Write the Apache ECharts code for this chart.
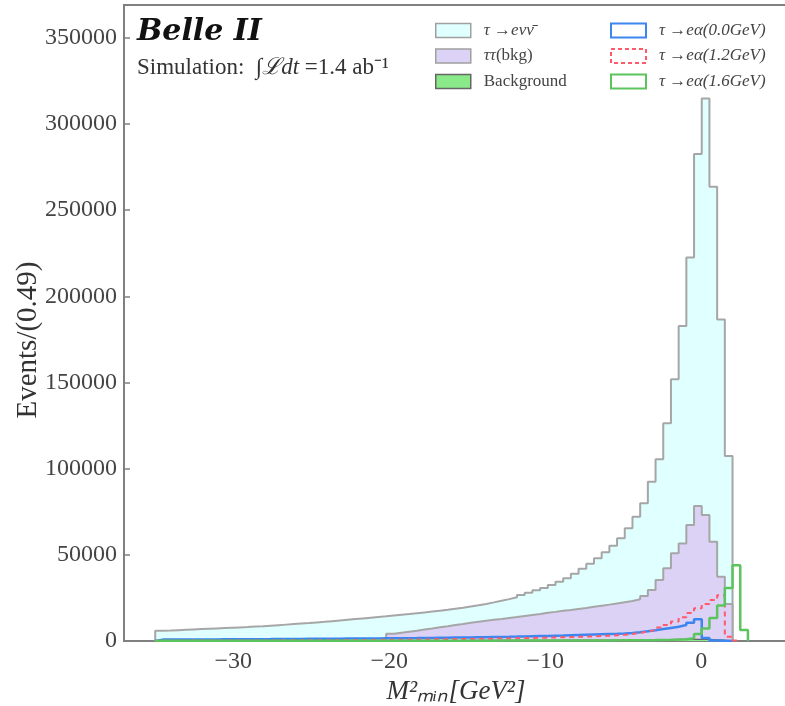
<!DOCTYPE html>
<html>
<head>
<meta charset="utf-8">
<script src="https://cdn.jsdelivr.net/npm/echarts@6/dist/echarts.min.js"></script>
<style>
html,body{margin:0;padding:0;background:#fff;}
#chart{width:785px;height:706px;}
</style>
</head>
<body>
<div id="chart"></div>
<script>
// ---- Histogram binning ----
const binStart = -35;
const binWidth = 0.4934;

// ---- Series counts per bin (null = no entry) ----
const tauENuNu = [
  6000, 6100, 6300, 6500, 6700, 6900, 7100, 7300, 7500, 7700,
  7900, 8100, 8400, 8600, 8900, 9200, 9500, 9800, 10100, 10400,
  10800, 11100, 11500, 11900, 12300, 12700, 13100, 13500, 13900, 14300,
  14800, 15200, 15600, 16100, 16600, 17100, 17600, 18100, 18700, 19300,
  20000, 20700, 21500, 22400, 23400, 24300, 25400, 26700, 28000, 29500,
  30800, 32500, 34400, 36400, 39000, 41900, 44800, 48000, 51500, 55200,
  59600, 65400, 72100, 79900, 92400, 105400, 126300, 151800, 182700, 222500,
  282500, 314800, 263500, 186600, 107300, null, null
];
const tautauBkg = [
  null, null, null, null, null, null, null, null, null, null,
  null, null, null, null, null, null, null, null, null, null,
  null, null, null, null, null, null, null, null, null, null,
  4200, 4800, 5400, 6000, 6700, 7300, 8000, 8600, 9300, 9900,
  10600, 11200, 11800, 12300, 12800, 13400, 13900, 14500, 15100, 15700,
  16400, 16900, 17500, 18000, 18600, 19200, 19900, 20500, 21100, 21800,
  22500, 23200, 24200, 26100, 29600, 35400, 42200, 50900, 56500, 67300,
  78300, 73100, 57600, 37300, 21500, null, null
];
const background = [
  150, 150, 150, 150, 150, 160, 160, 160, 160, 170,
  170, 170, 180, 180, 180, 190, 190, 190, 200, 200,
  200, 210, 210, 220, 220, 230, 230, 240, 240, 250,
  250, 260, 260, 270, 270, 280, 280, 290, 300, 300,
  310, 320, 330, 340, 350, 360, 370, 380, 390, 400,
  410, 420, 430, 450, 470, 490, 510, 530, 550, 580,
  610, 640, 680, 720, 760, 800, 850, 900, 950, 1000,
  1000, 900, 700, 500, 300, null, null
];
const sigA00 = [
  800, 820, 840, 860, 880, 900, 920, 940, 960, 980,
  1000, 1020, 1050, 1080, 1100, 1130, 1160, 1190, 1220, 1250,
  1280, 1310, 1340, 1370, 1400, 1430, 1460, 1490, 1520, 1550,
  1580, 1620, 1660, 1700, 1750, 1800, 1850, 1900, 1960, 2020,
  2080, 2150, 2220, 2300, 2380, 2460, 2550, 2650, 2750, 2850,
  2950, 3050, 3150, 3300, 3450, 3600, 3750, 3900, 4050, 4200,
  4400, 4700, 5100, 5600, 6200, 6900, 7600, 8300, 9300, 10600,
  12600, 1800, 300, 100, 50, null, null
];
const sigA12 = [
  200, 200, 210, 220, 230, 240, 250, 260, 270, 280,
  290, 300, 310, 320, 340, 360, 380, 400, 420, 440,
  460, 480, 500, 520, 550, 580, 610, 640, 670, 700,
  740, 780, 820, 860, 900, 950, 1000, 1050, 1100, 1150,
  1200, 1260, 1320, 1380, 1450, 1520, 1600, 1680, 1760, 1850,
  1950, 2050, 2150, 2250, 2400, 2550, 2700, 2900, 3100, 3350,
  3600, 4100, 4700, 5500, 6400, 7800, 9300, 11300, 13800, 16300,
  19000, 21500, 23800, 26500, 2500, 300, null
];
const sigA16 = [
  100, 100, 100, 100, 100, 100, 100, 100, 100, 100,
  100, 100, 100, 100, 100, 100, 100, 100, 100, 100,
  110, 110, 110, 120, 120, 120, 130, 130, 130, 140,
  140, 150, 150, 160, 160, 170, 170, 180, 180, 190,
  190, 200, 200, 210, 220, 230, 240, 250, 260, 270,
  280, 290, 300, 310, 320, 330, 340, 350, 360, 380,
  400, 420, 450, 480, 520, 600, 700, 850, 1050, 1600,
  4000, 7300, 13300, 20600, 30800, 43900, 6400
];

// ---- Axis ticks ----
const xTicks = [-30, -20, -10, 0];
const yTicks = [0, 50000, 100000, 150000, 200000, 250000, 300000, 350000];

// ---- Labels ----
const seriesNames = ['τ →eνν̄', 'ττ(bkg)', 'Background', 'τ →eα(0.0GeV)', 'τ →eα(1.2GeV)', 'τ →eα(1.6GeV)'];
const yAxisTitle = 'Events/(0.49)';
const xAxisTitle = 'M²ₘᵢₙ[GeV²]';

function edge(k) { return binStart + k * binWidth; }
function stepPoints(counts) {
  let first = -1, last = -1;
  counts.forEach((v, i) => { if (v != null) { if (first < 0) first = i; last = i; } });
  const pts = [[edge(first), 0]];
  for (let k = first; k <= last; k++) pts.push([edge(k), counts[k]]);
  pts.push([edge(last + 1), counts[last]]);
  pts.push([edge(last + 1), 0]);
  return pts;
}

const serif = 'Liberation Serif';
const chart = echarts.init(document.getElementById('chart'), null, {renderer: 'canvas'});

function histSeries(name, counts, z, line, fill) {
  const s = {
    name: name, type: 'line', step: 'end', data: stepPoints(counts),
    showSymbol: false, symbol: 'none', silent: true, z: z, animation: false,
    lineStyle: line, itemStyle: {color: line.color}
  };
  if (fill) s.areaStyle = {color: fill, opacity: 1};
  return s;
}

const mathRich = {
  i: {fontFamily: serif, fontStyle: 'italic', fontSize: 17, lineHeight: 14, color: '#444'},
  r: {fontFamily: serif, fontSize: 17, lineHeight: 14, color: '#444'}
};
function legendFmt(name) {
  if (name === 'ττ(bkg)') return '{i|ττ}{r|(bkg)}';
  if (name === 'Background') return '{r|Background}';
  return '{i|' + name + '}';
}

const option = {
  backgroundColor: '#fff',
  animation: false,
  grid: {left: 124, right: -3, top: 5, bottom: 65, outerBoundsMode: 'none', containLabel: false,
    show: true, borderColor: '#808080', borderWidth: 2, backgroundColor: 'transparent'},
  xAxis: {
    type: 'value', min: -37, max: 5.56,
    name: xAxisTitle, nameLocation: 'middle', nameGap: 31,
    nameTextStyle: {fontFamily: serif, fontStyle: 'italic', fontSize: 27, color: '#333'},
    axisLine: {show: true, onZero: false, lineStyle: {color: '#808080', width: 2}},
    axisTick: {show: true, inside: true, length: 6, customValues: xTicks, lineStyle: {color: '#808080', width: 1.5}},
    axisLabel: {show: true, customValues: xTicks, margin: 9, fontFamily: serif, fontSize: 24, color: '#444',
      formatter: v => (v < 0 ? '−' + Math.abs(v) : String(v))},
    splitLine: {show: false}
  },
  yAxis: {
    type: 'value', min: 0, max: 369000,
    axisLine: {show: true, onZero: false, lineStyle: {color: '#808080', width: 2}},
    axisTick: {show: true, inside: true, length: 6, customValues: yTicks, lineStyle: {color: '#808080', width: 1.5}},
    axisLabel: {show: true, customValues: yTicks, margin: 7, fontFamily: serif, fontSize: 24, color: '#444',
      formatter: v => String(v)},
    splitLine: {show: false}
  },
  graphic: [
    {type: 'text', x: 28, y: 340, rotation: Math.PI / 2, silent: true,
      style: {text: yAxisTitle, fontFamily: serif, fontSize: 29, fill: '#333', align: 'center', verticalAlign: 'middle'}}
  ],
  title: [
    {text: 'Belle II', left: 137, top: 17, padding: 0,
      textStyle: {fontFamily: 'DejaVu Serif', fontWeight: 'bold', fontStyle: 'italic', fontSize: 30, color: '#111'}},
    {text: '{r|Simulation:  }{i|∫ℒdt}{r| =1.4 ab⁻¹}', left: 137, top: 56, padding: 0,
      textStyle: {fontWeight: 'normal', rich: {
        r: {fontFamily: serif, fontWeight: 'normal', fontSize: 23, color: '#333'},
        i: {fontFamily: serif, fontWeight: 'normal', fontStyle: 'italic', fontSize: 23, color: '#333'}
      }}}
  ],
  legend: [
    {
      orient: 'vertical', left: 430, top: 17, icon: 'rect', itemWidth: 35, itemHeight: 14, itemGap: 8.5,
      selectedMode: false, formatter: legendFmt,
      textStyle: {rich: mathRich, padding: [0, 0, 0, 8]},
      data: [
        {name: seriesNames[0], itemStyle: {color: '#e0ffff', borderColor: '#a0a0a0', borderWidth: 1.5}},
        {name: seriesNames[1], itemStyle: {color: '#dcd2f6', borderColor: '#a0a0a0', borderWidth: 1.5}},
        {name: seriesNames[2], itemStyle: {color: '#8aea8a', borderColor: '#666', borderWidth: 1.5}}
      ]
    },
    {
      orient: 'vertical', left: 605, top: 17, icon: 'rect', itemWidth: 35, itemHeight: 14, itemGap: 8.5,
      selectedMode: false, formatter: legendFmt,
      textStyle: {rich: mathRich, padding: [0, 0, 0, 8]},
      data: [
        {name: seriesNames[3], itemStyle: {color: '#fff', borderColor: '#3d86f0', borderWidth: 2}},
        {name: seriesNames[4], itemStyle: {color: '#fff', borderColor: '#ff5a6a', borderWidth: 2, borderType: [4, 3]}},
        {name: seriesNames[5], itemStyle: {color: '#fff', borderColor: '#5cc45c', borderWidth: 2}}
      ]
    }
  ],
  series: [
    histSeries(seriesNames[0], tauENuNu, 1, {color: '#a6a6a6', width: 2}, '#e0ffff'),
    histSeries(seriesNames[1], tautauBkg, 2, {color: '#a6a6a6', width: 2}, '#dcd2f6'),
    histSeries(seriesNames[2], background, 3, {color: '#666', width: 1.2}, '#8aea8a'),
    histSeries(seriesNames[3], sigA00, 4, {color: '#3d86f0', width: 2.5}),
    histSeries(seriesNames[4], sigA12, 5, {color: '#ff5a6a', width: 2, type: [5, 4]}),
    histSeries(seriesNames[5], sigA16, 6, {color: '#5cc45c', width: 2.5})
  ]
};
chart.setOption(option);
</script>
</body>
</html>
